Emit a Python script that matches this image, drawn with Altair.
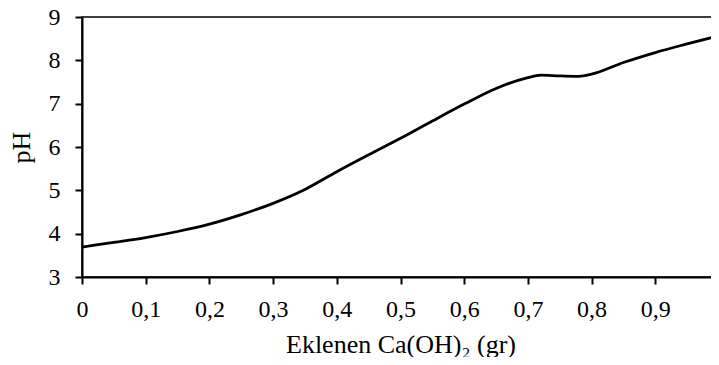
import altair as alt
import pandas as pd

ca_oh2 = [0.0, 0.05, 0.1, 0.15, 0.2, 0.25, 0.3, 0.35, 0.4, 0.45, 0.5, 0.55, 0.6, 0.65, 0.7, 0.72, 0.75, 0.78, 0.8, 0.85, 0.9, 0.95, 1.0]
ph = [3.69, 3.80, 3.91, 4.05, 4.22, 4.44, 4.70, 5.02, 5.43, 5.82, 6.20, 6.60, 6.99, 7.35, 7.60, 7.66, 7.64, 7.63, 7.68, 7.95, 8.18, 8.38, 8.57]

x_ticks = [0, 0.1, 0.2, 0.3, 0.4, 0.5, 0.6, 0.7, 0.8, 0.9, 1.0]
y_ticks = [3, 4, 5, 6, 7, 8, 9]

df = pd.DataFrame({"x": ca_oh2, "y": ph})

font = "Liberation Serif"

chart = alt.Chart(df).mark_line(
    interpolate="monotone", color="black", strokeWidth=2.8
).encode(
    x=alt.X("x:Q",
            scale=alt.Scale(domain=[0, 1], nice=False, zero=False),
            axis=alt.Axis(values=x_ticks,
                          labelExpr="replace(format(datum.value, '.1~f'), '.', ',')",
                          title="Eklenen Ca(OH)₂ (gr)",
                          tickSize=7, labelPadding=13, titlePadding=10,
                          labelFontSize=24, titleFontSize=26)),
    y=alt.Y("y:Q",
            scale=alt.Scale(domain=[3, 9], nice=False, zero=False),
            axis=alt.Axis(values=y_ticks, format="d", title="pH",
                          tickSize=7, labelPadding=15, titlePadding=14,
                          labelFontSize=24, titleFontSize=26)),
).properties(
    width=637, height=260,
    autosize=alt.AutoSizeParams(type="none"),
    padding={"left": 74, "top": 9, "right": -8, "bottom": 80},
).configure(
    background="white"
).configure_axis(
    grid=False, domainColor="black", domainWidth=2, tickColor="black",
    tickWidth=2, labelColor="black", titleColor="black",
    labelFont=font, titleFont=font, titleFontWeight="normal",
    labelFlush=False, labelOverlap=False,
).configure_view(
    stroke="black", strokeWidth=1.5
)

chart.save("out.html", embed_options={"renderer": "svg", "actions": False})
